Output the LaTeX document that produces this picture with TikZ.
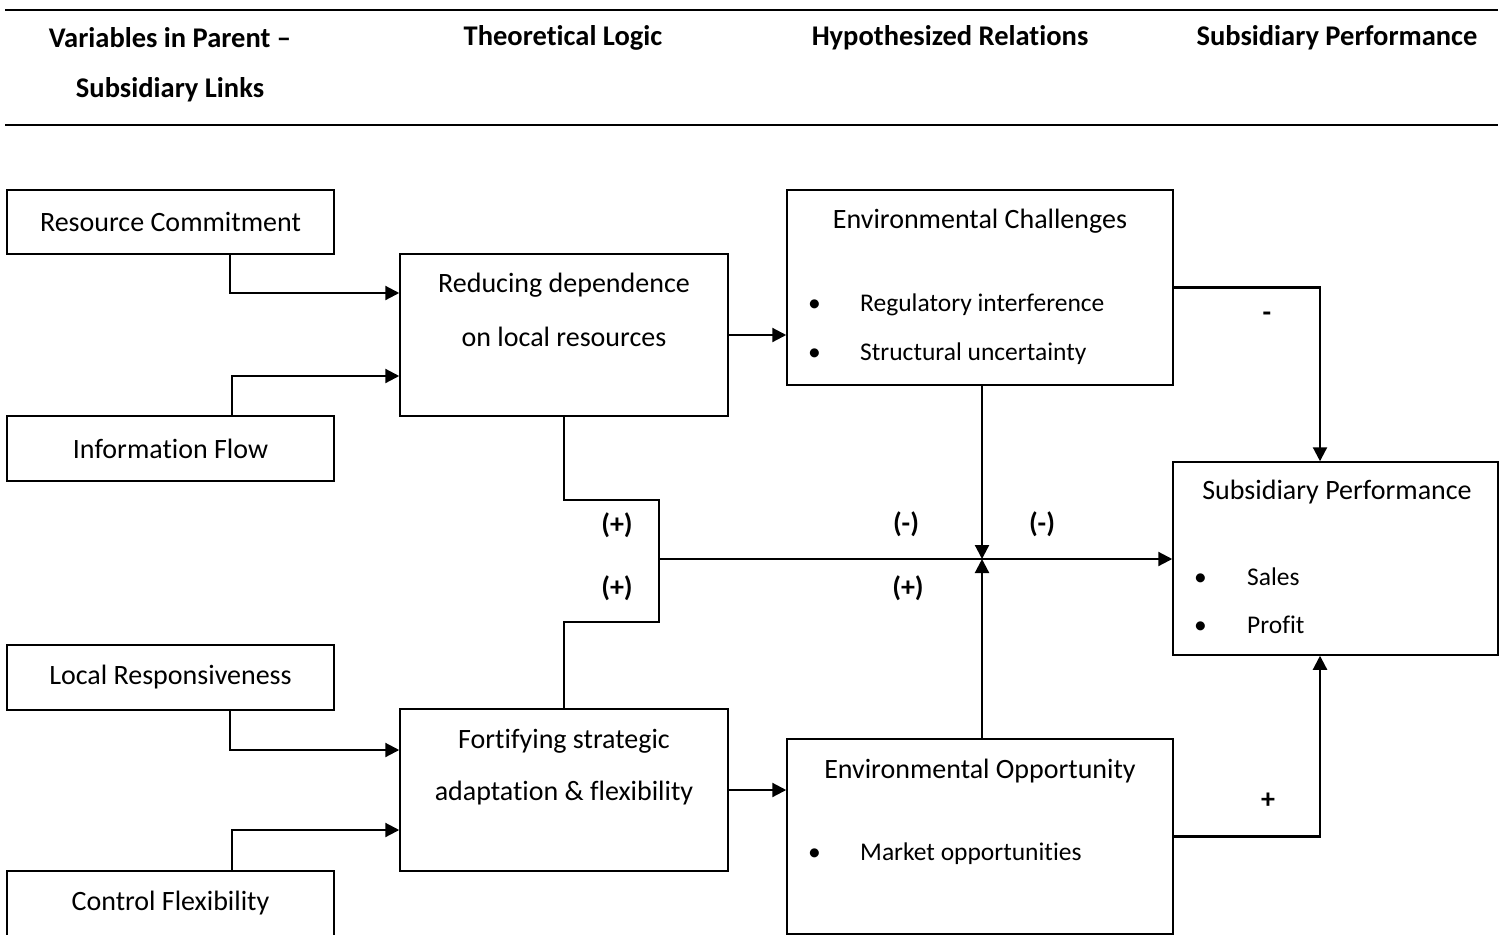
\documentclass[tikz,border=0pt]{standalone}
\usepackage{fontspec}
\setmainfont{Carlito}[Ligatures={NoCommon,NoRequired,NoContextual,NoRare}]
\usetikzlibrary{arrows.meta}

\begin{document}
\begin{tikzpicture}
    [x=1pt,y=-1pt,
     every node/.style={font=\fontsize{28}{34}\selectfont},
     box/.style={draw,line width=1.5pt,inner sep=0pt},
     line/.style={line width=2.2pt},
     link/.style={line,-{Triangle[length=14pt,width=14pt]}},
     rule/.style={line width=2.5pt},
     head/.style={font=\fontsize{28.5}{34}\selectfont\bfseries},
     sign/.style={font=\fontsize{28}{34}\selectfont\bfseries},
     item/.style={anchor=west,inner sep=0pt,font=\fontsize{25.5}{30}\selectfont}]
    \useasboundingbox (0,0) rectangle (1503,934);
    % header
    \draw[rule] (5,10) -- (1498,10);
    \draw[rule] (5,125) -- (1498,125);
    \node[head] (h1a) at (170,38) {Variables in Parent --};
    \node[head] (h1b) at (170,90) {Subsidiary Links};
    \node[head] (h2) at (563,38) {Theoretical Logic};
    \node[head] (h3) at (950,38) {Hypothesized Relations};
    \node[head] (h4) at (1337,38) {Subsidiary Performance};
    % parent - subsidiary links
    \node[box,minimum width=327pt,minimum height=64pt] (rc) at (170.5,222) {Resource Commitment};
    \node[box,minimum width=327pt,minimum height=65pt] (inf) at (170.5,448.5) {Information Flow};
    \node[box,minimum width=327pt,minimum height=65pt] (lr) at (170.5,677.5) {Local Responsiveness};
    \node[box,minimum width=327pt,minimum height=65pt] (cf) at (170.5,903.5) {Control Flexibility};
    % theoretical logic
    \node[box,minimum width=328pt,minimum height=162pt] (red) at (564,335) {};
    \node (redt1) at (564,285) {Reducing dependence};
    \node (redt2) at (564,337) {on local resources};
    \node[box,minimum width=328pt,minimum height=162pt] (fort) at (564,790) {};
    \node (fortt1) at (564,741) {Fortifying strategic};
    \node (fortt2) at (564,793) {adaptation \& flexibility};
    % environment
    \node[box,minimum width=386pt,minimum height=195pt] (ec) at (980,287.5) {};
    \node (ect) at (980,221) {Environmental Challenges};
    \node[item] (ec1) at (808,305) {\makebox[52pt][l]{\textbullet}Regulatory interference};
    \node[item] (ec2) at (808,354) {\makebox[52pt][l]{\textbullet}Structural uncertainty};
    \node[box,minimum width=386pt,minimum height=195pt] (eo) at (980,836.5) {};
    \node (eot) at (980,771) {Environmental Opportunity};
    \node[item] (eo1) at (808,854) {\makebox[52pt][l]{\textbullet}Market opportunities};
    % performance
    \node[box,minimum width=325pt,minimum height=193pt] (sp) at (1335.5,558.5) {};
    \node (spt) at (1337,492) {Subsidiary Performance};
    \node[item] (sp1) at (1194,577) {\makebox[53pt][l]{\textbullet}Sales};
    \node[item] (sp2) at (1194,625) {\makebox[53pt][l]{\textbullet}Profit};
    % connectors
    \draw[link] ([xshift=59.5pt]rc.south) |- ([yshift=42pt]red.west);
    \draw[link] ([xshift=61.5pt]inf.north) |- ([yshift=-41pt]red.west);
    \draw[link] ([xshift=59.5pt]lr.south) |- ([yshift=40pt]fort.west);
    \draw[link] ([xshift=61.5pt]cf.north) |- ([yshift=-40pt]fort.west);
    \draw[link] (red.east) -- (red.east -| ec.west);
    \draw[link] (fort.east) -- (fort.east -| eo.west);
    \coordinate (jn) at (659,559);
    \coordinate (mx) at (982,559);
    \draw[line] (red.south) -- ++(0,83) -| (jn) -- ++(0,63) -| (fort.north);
    \draw[link] (jn) -- (jn -| sp.west);
    \draw[link] (ec.south -| mx) -- (mx);
    \draw[link] (eo.north -| mx) -- (mx);
    \draw[link] (ec.east) -| ([xshift=-15.5pt]sp.north);
    \draw[link] (eo.east) -| ([xshift=-15.5pt]sp.south);
    % signs
    \node[sign] (s1) at (617,525) {(+)};
    \node[sign] (s2) at (617,588) {(+)};
    \node[sign] (s3) at (906,524) {(-)};
    \node[sign] (s4) at (908,588) {(+)};
    \node[sign] (s5) at (1042,524) {(-)};
    \node[sign] (s6) at (1267,317) {-};
    \node[sign] (s7) at (1268,801) {+};
\end{tikzpicture}
\end{document}
